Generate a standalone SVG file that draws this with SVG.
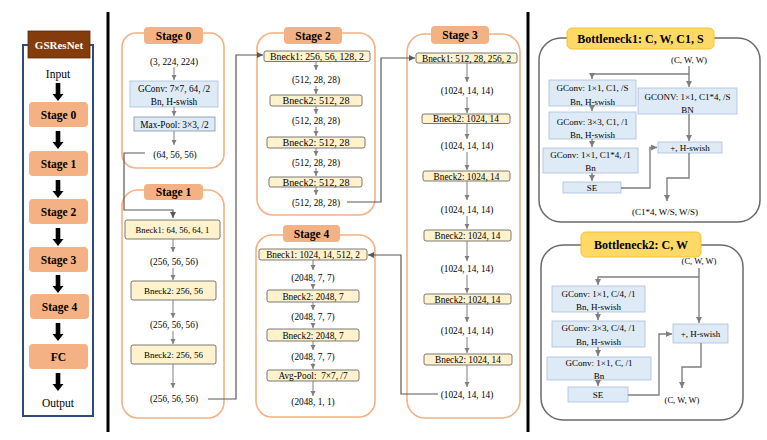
<svg xmlns="http://www.w3.org/2000/svg" width="767" height="440" viewBox="0 0 767 440">
<defs>
<style>
.t{font-family:"Liberation Serif","Times New Roman",serif;font-size:9.3px;fill:#000;text-anchor:middle}
.b{font-weight:bold}
.ctr{fill:none;stroke:#F4B183;stroke-width:1.6}
.badge{fill:#F4B183}
.bk{fill:#FFF2CC;stroke:#595959;stroke-width:0.8}
.bl{fill:#DEEBF7;stroke:#A9BFDB;stroke-width:0.8}
.ar{stroke:#7F7F7F;stroke-width:1;fill:none;marker-end:url(#ah)}
.ar2{stroke:#7F7F7F;stroke-width:1.4;fill:none;marker-end:url(#ah2)}
.cn{stroke:#595959;stroke-width:1.2;fill:none}
.bn{fill:none;stroke:#6A6A6A;stroke-width:1.5}
.ttl{fill:#FFD966;stroke:#F2C230;stroke-width:1}
.ls{fill:#F4B183}
</style>
<marker id="ah" markerWidth="6" markerHeight="6" refX="5" refY="3" orient="auto" markerUnits="userSpaceOnUse"><path d="M0,0.5 L5,3 L0,5.5 z" fill="#7F7F7F"/></marker>
<marker id="ah2" markerWidth="7" markerHeight="7" refX="6" refY="3.5" orient="auto" markerUnits="userSpaceOnUse"><path d="M0,0.5 L6,3.5 L0,6.5 z" fill="#7F7F7F"/></marker>
<marker id="ahc" markerWidth="7" markerHeight="7" refX="6" refY="3.5" orient="auto" markerUnits="userSpaceOnUse"><path d="M0,0.5 L6,3.5 L0,6.5 z" fill="#595959"/></marker>
<g id="barrow"><rect x="-2.3" y="0" width="4.6" height="11" fill="#000"/><polygon points="-5.5,11 5.5,11 0,18" fill="#000"/></g>
</defs>
<rect width="767" height="440" fill="#fff"/>

<!-- separators -->
<line x1="108" y1="12" x2="108" y2="432" stroke="#000" stroke-width="3"/>
<line x1="528" y1="12" x2="528" y2="432" stroke="#000" stroke-width="3"/>

<!-- Left overview -->
<g id="overview">
<rect x="23" y="45" width="70" height="371" fill="#fff" stroke="#2F4B7C" stroke-width="2"/>
<rect x="28" y="31" width="62" height="27" fill="#843C0C" stroke="#5C2A08" stroke-width="0.8"/>
<text class="t b" x="59" y="48.5" style="font-size:11px;fill:#fff">GSResNet</text>
<text class="t" x="58" y="78" style="font-size:11.5px">Input</text>
<use href="#barrow" x="58" y="83"/>
<g id="ov-stage0"><rect class="ls" x="29" y="102" width="59" height="25" rx="4"/><text class="t b" x="58.5" y="118.5" style="font-size:11.5px">Stage 0</text></g>
<use href="#barrow" x="58" y="131"/>
<g id="ov-stage1"><rect class="ls" x="29" y="151" width="59" height="25" rx="4"/><text class="t b" x="58.5" y="167.5" style="font-size:11.5px">Stage 1</text></g>
<use href="#barrow" x="58" y="180"/>
<g id="ov-stage2"><rect class="ls" x="29" y="199" width="59" height="25" rx="4"/><text class="t b" x="58.5" y="215.5" style="font-size:11.5px">Stage 2</text></g>
<use href="#barrow" x="58" y="228"/>
<g id="ov-stage3"><rect class="ls" x="29" y="247" width="59" height="25" rx="4"/><text class="t b" x="58.5" y="263.5" style="font-size:11.5px">Stage 3</text></g>
<use href="#barrow" x="58" y="275"/>
<g id="ov-stage4"><rect class="ls" x="30" y="294" width="59" height="25" rx="4"/><text class="t b" x="59.5" y="310.5" style="font-size:11.5px">Stage 4</text></g>
<use href="#barrow" x="58" y="323"/>
<g id="ov-fc"><rect class="ls" x="29" y="344" width="59" height="25" rx="4"/><text class="t b" x="58.5" y="360.5" style="font-size:11.5px">FC</text></g>
<use href="#barrow" x="58" y="373"/>
<text class="t" x="58" y="407" style="font-size:11.5px">Output</text>
</g>

<!-- Stage 0 -->
<g id="stage0">
<rect class="ctr" x="122" y="33" width="102" height="135" rx="14"/>
<rect class="badge" x="144" y="27" width="59" height="17" rx="4"/>
<text class="t b" x="173.5" y="39.5" style="font-size:11.5px">Stage 0</text>
<text class="t" x="174" y="65">(3, 224, 224)</text>
<rect class="bl" x="130" y="81" width="88" height="26"/>
<text class="t" x="174" y="92">GConv: 7×7, 64, /2</text>
<text class="t" x="174" y="105">Bn, H-swish</text>
<rect class="bl" x="134" y="117" width="81" height="14" style="stroke:#7F8FA6"/>
<text class="t" x="174.5" y="127.5">Max-Pool: 3×3, /2</text>
<text class="t" x="175" y="157.5">(64, 56, 56)</text>
</g>

<!-- Stage 1 -->
<g id="stage1">
<rect class="ctr" x="122" y="190" width="102" height="228" rx="16"/>
<rect class="badge" x="144" y="184" width="59" height="16" rx="4"/>
<text class="t b" x="173.5" y="196" style="font-size:11.5px">Stage 1</text>
<rect class="bk" x="125" y="220" width="95" height="19" rx="2"/>
<text class="t" x="172.5" y="232.5" style="font-size:8.6px">Bneck1: 64, 56, 64, 1</text>
<text class="t" x="174" y="265">(256, 56, 56)</text>
<rect class="bk" x="131" y="281" width="85" height="19" rx="2"/>
<text class="t" x="173.5" y="293.5" style="font-size:9px">Bneck2: 256, 56</text>
<text class="t" x="174" y="328">(256, 56, 56)</text>
<rect class="bk" x="131" y="345" width="85" height="19" rx="2"/>
<text class="t" x="173.5" y="357.5" style="font-size:9px">Bneck2: 256, 56</text>
<text class="t" x="174" y="402">(256, 56, 56)</text>
</g>

<!-- Stage 2 -->
<g id="stage2">
<rect class="ctr" x="257" y="33" width="118" height="182" rx="16"/>
<rect class="badge" x="284" y="27" width="58" height="17" rx="4"/>
<text class="t b" x="313" y="39.5" style="font-size:11.5px">Stage 2</text>
<rect class="bk" x="264" y="51" width="106" height="10.5" rx="2"/>
<text class="t" x="317" y="59.5" style="font-size:9.8px">Bneck1: 256, 56, 128, 2</text>
<text class="t" x="316" y="83">(512, 28, 28)</text>
<rect class="bk" x="270" y="95" width="92" height="11" rx="2"/>
<text class="t" x="316" y="104" style="font-size:10.2px">Bneck2: 512, 28</text>
<text class="t" x="316" y="124">(512, 28, 28)</text>
<rect class="bk" x="267" y="137" width="98" height="11" rx="2"/>
<text class="t" x="316" y="146" style="font-size:10.2px">Bneck2: 512, 28</text>
<text class="t" x="316" y="166">(512, 28, 28)</text>
<rect class="bk" x="269" y="177" width="93" height="10" rx="2"/>
<text class="t" x="316" y="185.5" style="font-size:10.2px">Bneck2: 512, 28</text>
<text class="t" x="316" y="206">(512, 28, 28)</text>
</g>

<!-- Stage 3 -->
<g id="stage3">
<rect class="ctr" x="407" y="34" width="113" height="384" rx="18"/>
<rect class="badge" x="431" y="26" width="58" height="18" rx="4"/>
<text class="t b" x="460" y="39" style="font-size:11.5px">Stage 3</text>
<rect class="bk" x="416" y="53" width="101" height="10" rx="2"/>
<text class="t" x="466.5" y="61.5">Bneck1: 512, 28, 256, 2</text>
<text class="t" x="467" y="94">(1024, 14, 14)</text>
<rect class="bk" x="422" y="114" width="88" height="9.5" rx="2"/>
<text class="t" x="466" y="122">Bneck2: 1024, 14</text>
<text class="t" x="467" y="149">(1024, 14, 14)</text>
<rect class="bk" x="423" y="171" width="87" height="10" rx="2"/>
<text class="t" x="466.5" y="179.5">Bneck2: 1024, 14</text>
<text class="t" x="467" y="213">(1024, 14, 14)</text>
<rect class="bk" x="424" y="230" width="87" height="11" rx="2"/>
<text class="t" x="467.5" y="239">Bneck2: 1024, 14</text>
<text class="t" x="467" y="272">(1024, 14, 14)</text>
<rect class="bk" x="424" y="294" width="87" height="10" rx="2"/>
<text class="t" x="467.5" y="302.5">Bneck2: 1024, 14</text>
<text class="t" x="467" y="334">(1024, 14, 14)</text>
<rect class="bk" x="424" y="354" width="88" height="11" rx="2"/>
<text class="t" x="468" y="363">Bneck2: 1024, 14</text>
<text class="t" x="467" y="398">(1024, 14, 14)</text>
</g>

<!-- Stage 4 -->
<g id="stage4">
<rect class="ctr" x="256" y="235" width="119" height="182" rx="16"/>
<rect class="badge" x="283" y="225" width="57" height="17" rx="4"/>
<text class="t b" x="311.5" y="237.5" style="font-size:11.5px">Stage 4</text>
<rect class="bk" x="259" y="249" width="108" height="11" rx="2"/>
<text class="t" x="313" y="258">Bneck1: 1024, 14, 512, 2</text>
<text class="t" x="313" y="281">(2048, 7, 7)</text>
<rect class="bk" x="267" y="290" width="92" height="12" rx="2"/>
<text class="t" x="313" y="299.5">Bneck2: 2048, 7</text>
<text class="t" x="313" y="320">(2048, 7, 7)</text>
<rect class="bk" x="267" y="329" width="92" height="12" rx="2"/>
<text class="t" x="313" y="338.5">Bneck2: 2048, 7</text>
<text class="t" x="313" y="360">(2048, 7, 7)</text>
<rect class="bk" x="267" y="370" width="92" height="11" rx="2"/>
<text class="t" x="313" y="379" xml:space="preserve">Avg-Pool:  7×7, /7</text>
<text class="t" x="313" y="405">(2048, 1, 1)</text>
</g>

<!-- Bottleneck1 -->
<g id="bottleneck1">
<rect class="bn" x="539" y="38" width="221" height="184" rx="22"/>
<rect class="ttl" x="567" y="28" width="147" height="21" rx="5"/>
<text class="t b" x="640.5" y="42.5" style="font-size:12px">Bottleneck1: C, W, C1, S</text>
<text class="t" x="689" y="63" style="font-size:8.8px">(C, W, W)</text>
<rect class="bl" x="549" y="80" width="87" height="26"/>
<text class="t" x="592.5" y="91" style="font-size:9px">GConv: 1×1, C1, /S</text>
<text class="t" x="592.5" y="105" style="font-size:9px">Bn, H-swish</text>
<rect class="bl" x="549" y="112" width="87" height="27"/>
<text class="t" x="592.5" y="125" style="font-size:9px">GConv: 3×3, C1, /1</text>
<text class="t" x="592.5" y="137.5" style="font-size:9px">Bn, H-swish</text>
<rect class="bl" x="543" y="148" width="95" height="25"/>
<text class="t" x="590.5" y="157.5" style="font-size:9px">GConv: 1×1, C1*4, /1</text>
<text class="t" x="590.5" y="171" style="font-size:9px">Bn</text>
<rect class="bl" x="563" y="182" width="58" height="11"/>
<text class="t" x="592" y="190.5" style="font-size:9px">SE</text>
<rect class="bl" x="638" y="88" width="99" height="26"/>
<text class="t" x="687.5" y="100" style="font-size:9px">GCONV: 1×1, C1*4, /S</text>
<text class="t" x="687.5" y="113" style="font-size:9px">BN</text>
<rect class="bl" x="658" y="142" width="64" height="11"/>
<text class="t" x="690" y="150.5" style="font-size:9px">+, H-swish</text>
<text class="t" x="665" y="215" style="font-size:9px">(C1*4, W/S, W/S)</text>
</g>

<!-- Bottleneck2 -->
<g id="bottleneck2">
<rect class="bn" x="541" y="245" width="202" height="175" rx="22"/>
<rect class="ttl" x="581" y="232" width="120" height="25" rx="5"/>
<text class="t b" x="641" y="248.5" style="font-size:12px">Bottleneck2: C, W</text>
<text class="t" x="699" y="264" style="font-size:8.5px">(C, W, W)</text>
<rect class="bl" x="552" y="286" width="93" height="26"/>
<text class="t" x="598.5" y="296.5" style="font-size:9px">GConv: 1×1, C/4, /1</text>
<text class="t" x="598.5" y="310" style="font-size:9px">Bn, H-swish</text>
<rect class="bl" x="552" y="321" width="93" height="26"/>
<text class="t" x="598.5" y="331" style="font-size:9px">GConv: 3×3, C/4, /1</text>
<text class="t" x="598.5" y="345" style="font-size:9px">Bn, H-swish</text>
<rect class="bl" x="547" y="357" width="104" height="23"/>
<text class="t" x="599" y="365.5" style="font-size:9px">GConv: 1×1, C, /1</text>
<text class="t" x="599" y="379" style="font-size:9px">Bn</text>
<rect class="bl" x="568" y="387" width="60" height="15"/>
<text class="t" x="598" y="397.5" style="font-size:9px">SE</text>
<rect class="bl" x="673" y="324" width="55" height="19"/>
<text class="t" x="700.5" y="336.5" style="font-size:9px">+, H-swish</text>
<text class="t" x="682" y="403" style="font-size:8.5px">(C, W, W)</text>
</g>

<!-- Connectors -->
<g id="connectors">
<!-- stage 0 -->
<line class="ar" x1="174" y1="67" x2="174" y2="80"/>
<line class="ar" x1="174" y1="107" x2="174" y2="116"/>
<line class="ar" x1="174" y1="131" x2="174" y2="145"/>
<!-- stage 1 -->
<line class="ar" x1="173" y1="239" x2="173" y2="252"/>
<line class="ar" x1="173" y1="268" x2="173" y2="280"/>
<line class="ar" x1="173" y1="300" x2="173" y2="318"/>
<line class="ar" x1="173" y1="331" x2="173" y2="344"/>
<line class="ar" x1="173" y1="364" x2="173" y2="388"/>
<!-- stage 2 -->
<line class="ar" x1="316" y1="61.5" x2="316" y2="70"/>
<line class="ar" x1="316" y1="86" x2="316" y2="94"/>
<line class="ar" x1="316" y1="106" x2="316" y2="114"/>
<line class="ar" x1="316" y1="127" x2="316" y2="136"/>
<line class="ar" x1="316" y1="148" x2="316" y2="156"/>
<line class="ar" x1="316" y1="168" x2="316" y2="176"/>
<line class="ar" x1="316" y1="187" x2="316" y2="195"/>
<!-- stage 3 -->
<line class="ar" x1="467" y1="63" x2="467" y2="82"/>
<line class="ar" x1="467" y1="97" x2="467" y2="113"/>
<line class="ar" x1="467" y1="123.5" x2="467" y2="139"/>
<line class="ar" x1="467" y1="152" x2="467" y2="170"/>
<line class="ar" x1="467" y1="181" x2="467" y2="200"/>
<line class="ar" x1="467" y1="216" x2="467" y2="229"/>
<line class="ar" x1="467" y1="241" x2="467" y2="261"/>
<line class="ar" x1="467" y1="275" x2="467" y2="293"/>
<line class="ar" x1="467" y1="304" x2="467" y2="322"/>
<line class="ar" x1="467" y1="337" x2="467" y2="353"/>
<line class="ar" x1="467" y1="365" x2="467" y2="387"/>
<!-- stage 4 -->
<line class="ar" x1="313" y1="260" x2="313" y2="270"/>
<line class="ar" x1="313" y1="284" x2="313" y2="289"/>
<line class="ar" x1="313" y1="302" x2="313" y2="310"/>
<line class="ar" x1="313" y1="323" x2="313" y2="328"/>
<line class="ar" x1="313" y1="341" x2="313" y2="350"/>
<line class="ar" x1="313" y1="363" x2="313" y2="369"/>
<line class="ar" x1="313" y1="381" x2="313" y2="396"/>
<!-- between stages -->
<path class="cn" d="M145,153 H124 V210 H173 V218" marker-end="url(#ahc)"/>
<path class="cn" d="M208,399 H236 V55 H263" marker-end="url(#ahc)"/>
<path class="cn" d="M347,202 H381 V58 H415" marker-end="url(#ahc)"/>
<path class="cn" d="M438,394 H401 V255 H368" marker-end="url(#ahc)"/>
<!-- bottleneck1 -->
<line class="ar2" x1="689" y1="66" x2="689" y2="87"/>
<path class="ar2" d="M689,74 H592 V79"/>
<line class="ar2" x1="592" y1="106" x2="592" y2="111"/>
<line class="ar2" x1="592" y1="139" x2="592" y2="147"/>
<line class="ar2" x1="592" y1="173" x2="592" y2="181"/>
<line class="ar2" x1="689" y1="114" x2="689" y2="141"/>
<path class="ar2" d="M621,188 H650 V147.5 H657"/>
<path class="ar2" d="M689,153 V178 H667 V201"/>
<!-- bottleneck2 -->
<line class="ar2" x1="699" y1="268" x2="699" y2="323"/>
<path class="ar2" d="M699,277 H598 V285"/>
<line class="ar2" x1="598" y1="312" x2="598" y2="320"/>
<line class="ar2" x1="598" y1="347" x2="598" y2="356"/>
<line class="ar2" x1="598" y1="380" x2="598" y2="386"/>
<path class="ar2" d="M628,395 H659 V334 H672"/>
<path class="ar2" d="M701,343 V367 H682 V388"/>
</g>
</svg>
